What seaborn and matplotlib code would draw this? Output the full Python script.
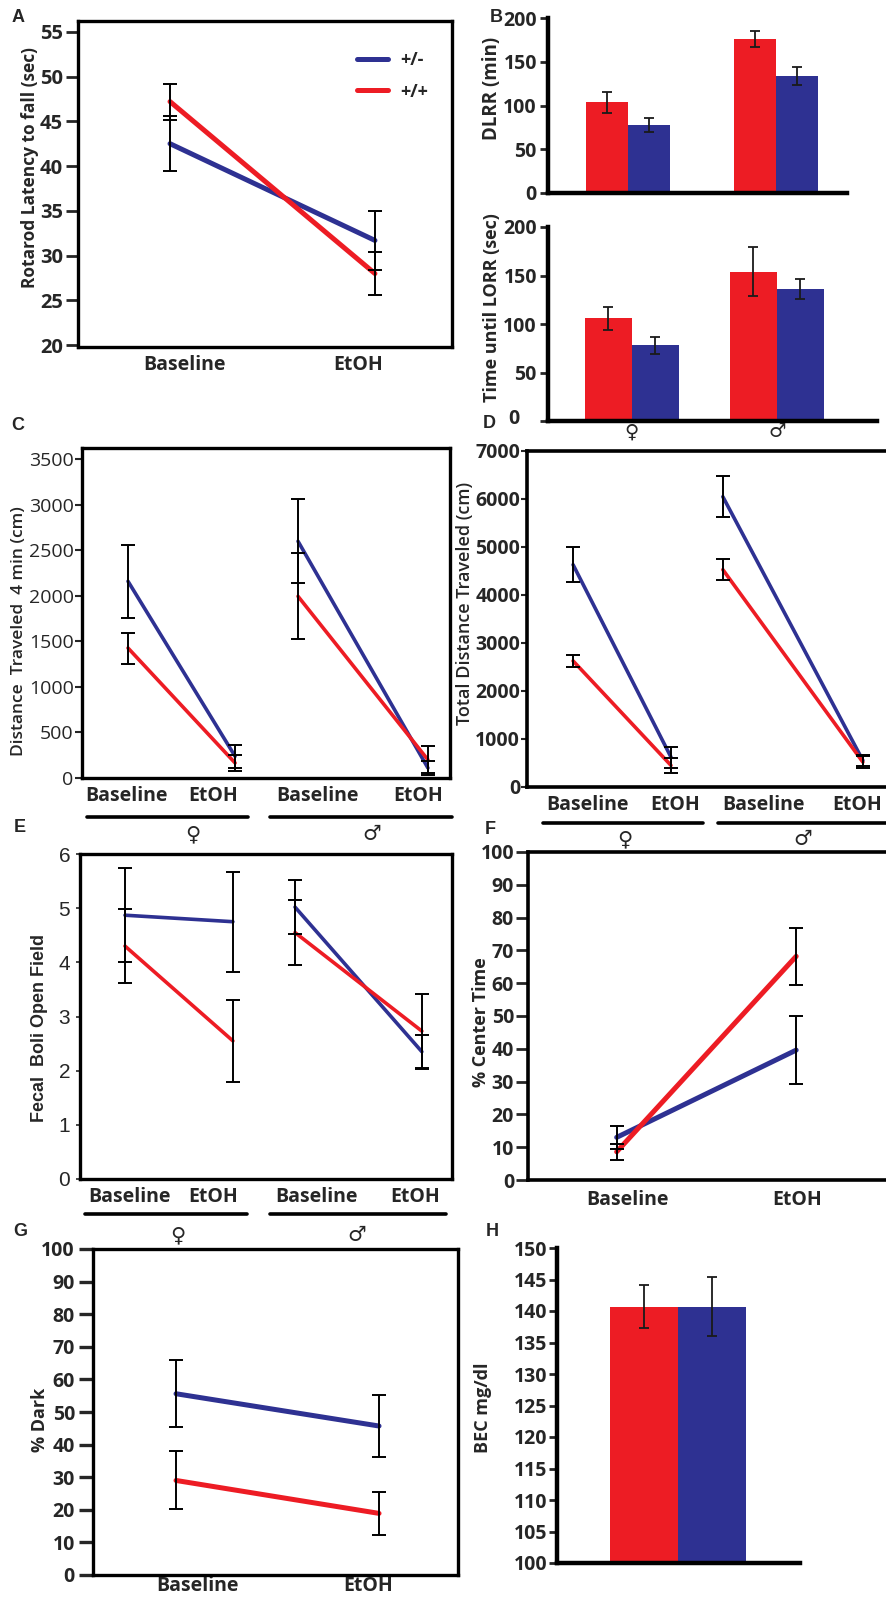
import numpy as np
import pandas as pd
import matplotlib
matplotlib.use("Agg")
import matplotlib.pyplot as plt
from matplotlib.lines import Line2D
import seaborn as sns

# ---------------- data ----------------
genotypes = ["+/-", "+/+"]
conds = ["Baseline", "EtOH"]
sex_conds = ["Baseline", "EtOH", "Baseline", "EtOH"]
sex_of_point = ["F", "F", "M", "M"]
sexes = ["\u2640", "\u2642"]

# A rotarod
a_het = [42.5, 31.7]
a_het_err = [3.1, 3.3]
a_wt = [47.2, 28.0]
a_wt_err = [2.0, 2.4]

# B DLRR / LORR (female, male)
dlrr_wt = [104, 176]
dlrr_wt_err = [12, 9]
dlrr_het = [78, 134]
dlrr_het_err = [8, 10]
lorr_wt = [106, 154]
lorr_wt_err = [12, 25]
lorr_het = [78, 136]
lorr_het_err = [8.5, 10]

# C distance 4 min (F base, F EtOH, M base, M EtOH)
c_het = [2158, 238, 2597, 110]
c_het_err = [400, 125, 460, 80]
c_wt = [1426, 165, 1993, 200]
c_wt_err = [170, 90, 470, 150]

# D total distance
d_het = [4631, 622, 6048, 553]
d_het_err = [360, 220, 430, 120]
d_wt = [2627, 450, 4528, 518]
d_wt_err = [120, 150, 220, 120]

# E fecal boli
e_het = [4.87, 4.75, 5.02, 2.35]
e_het_err = [0.87, 0.92, 0.50, 0.30]
e_wt = [4.30, 2.55, 4.55, 2.73]
e_wt_err = [0.68, 0.76, 0.60, 0.69]

# F % center time
f_het = [13.0, 39.6]
f_het_err = [3.4, 10.4]
f_wt = [8.6, 68.2]
f_wt_err = [2.5, 8.6]

# G % dark
g_het = [55.6, 45.7]
g_het_err = [10.3, 9.6]
g_wt = [29.0, 18.9]
g_wt_err = [8.9, 6.6]

# H BEC
h_cat = ["BEC"]
h_wt = [140.7]
h_wt_err = [3.4]
h_het = [140.7]
h_het_err = [4.7]

# ---------------- style ----------------
sns.set_theme(style="white")
plt.rcParams["font.family"] = ["Open Sans", "DejaVu Sans"]
plt.rcParams["axes.edgecolor"] = "black"

RED = "#ED1C24"
BLUE = "#2E3192"
pal = {"+/-": BLUE, "+/+": RED}

W, H = 887, 1597
fig = plt.figure(figsize=(W / 100, H / 100), dpi=100)


def add_ax(l, t, r, b):
    return fig.add_axes([l / W, 1 - b / H, (r - l) / W, (b - t) / H])


def ftext(x, y, s, **kw):
    kw.setdefault("ha", "center")
    kw.setdefault("va", "center")
    fig.text(x / W, 1 - y / H, s, **kw)


def fline(x0, x1, y, lw=2.6):
    fig.add_artist(Line2D([x0 / W, x1 / W], [1 - y / H, 1 - y / H],
                          color="black", lw=lw, transform=fig.transFigure))


def line_panel(ax, pos, het, het_err, wt, wt_err, sex=None, lw=3.0):
    n = len(pos)
    sexcol = sex if sex is not None else ["all"] * n
    df = pd.DataFrame({
        "pos": list(pos) * 2,
        "val": list(het) + list(wt),
        "err": list(het_err) + list(wt_err),
        "geno": ["+/-"] * n + ["+/+"] * n,
        "sex": list(sexcol) * 2,
    })
    sns.lineplot(data=df, x="pos", y="val", hue="geno", hue_order=genotypes,
                 units="sex", estimator=None, palette=pal, linewidth=lw,
                 ax=ax, legend=False, sort=False)
    ax.errorbar(df["pos"], df["val"], yerr=df["err"], fmt="none",
                ecolor="black", elinewidth=1.4, capsize=5, capthick=1.4,
                zorder=5)
    ax.set_xlabel("")
    ax.set_ylabel("")


def bar_panel(ax, cats, wt, wt_err, het, het_err, width):
    n = len(cats)
    df = pd.DataFrame({
        "cat": list(cats) * 2,
        "val": list(wt) + list(het),
        "err": list(wt_err) + list(het_err),
        "geno": ["+/+"] * n + ["+/-"] * n,
    })
    sns.barplot(data=df, x="cat", y="val", hue="geno", hue_order=["+/+", "+/-"],
                palette=pal, width=width, ax=ax, legend=False, errorbar=None,
                saturation=1, linewidth=0)
    conts = list(ax.containers[:2])
    for cont, g in zip(conts, ["+/+", "+/-"]):
        sub = df[df.geno == g]
        for bar, v, e in zip(cont, sub.val, sub.err):
            ax.errorbar(bar.get_x() + bar.get_width() / 2, v, yerr=e, fmt="none",
                        ecolor="#1a1a1a", elinewidth=1.3, capsize=3.5,
                        capthick=1.3, zorder=5)
    ax.set_xlabel("")
    ax.set_ylabel("")


def box(ax, lw=2.4, sides=("left", "right", "top", "bottom")):
    for s in ["left", "right", "top", "bottom"]:
        ax.spines[s].set_visible(s in sides)
        ax.spines[s].set_linewidth(lw)
        ax.spines[s].set_color("black")


def bold_ticks(ax):
    for t in ax.get_yticklabels():
        t.set_fontweight("bold")


TICKFS = 14
BOLD = "bold"

# ---------------- Panel A ----------------
axA = add_ax(78, 21, 452, 347)
line_panel(axA, [0, 1], a_het, a_het_err, a_wt, a_wt_err, lw=3.6)
axA.set_xlim(-0.449, 1.376)
axA.set_ylim(19.8, 56.2)
axA.set_yticks([20, 25, 30, 35, 40, 45, 50, 55])
axA.set_xticks([0.073, 0.917])
axA.set_xticklabels(conds, fontsize=14, fontweight=BOLD)
axA.tick_params(axis="y", direction="out", length=9, width=2, labelsize=14.5, pad=2, left=True)
axA.tick_params(axis="x", length=0, pad=6)
bold_ticks(axA)
box(axA)
axA.legend(handles=[Line2D([], [], color=BLUE, lw=3.6, label="+/-"),
                    Line2D([], [], color=RED, lw=3.6, label="+/+")],
           loc="upper left", bbox_to_anchor=((348 - 78) / 374, 1 - (42 - 21) / 326),
           frameon=False, handlelength=1.7, handletextpad=0.7, labelspacing=0.75,
           borderpad=0, prop={"size": 13, "weight": "bold"})
ftext(30, 168, "Rotarod Latency to fall (sec)", rotation=90, fontsize=12.5, fontweight="bold")
ftext(18, 17, "A", fontsize=13, fontweight=BOLD, family="Liberation Sans")

# ---------------- Panel B (top) ----------------
axB1 = add_ax(548, 18, 847, 193)
bar_panel(axB1, sexes, dlrr_wt, dlrr_wt_err, dlrr_het, dlrr_het_err, width=0.564)
axB1.set_xlim(-0.537, 1.477)
axB1.set_ylim(0, 200)
axB1.set_yticks([0, 50, 100, 150, 200])
axB1.set_xticks([])
axB1.tick_params(axis="y", direction="out", length=6, width=2, labelsize=TICKFS, pad=2, left=True)
bold_ticks(axB1)
box(axB1, lw=3.2, sides=("left", "bottom"))
ftext(492, 88, "DLRR (min)", rotation=90, fontsize=13.5, fontweight="bold")
ftext(496, 17, "B", fontsize=13, fontweight=BOLD, family="Liberation Sans")

# ---------------- Panel B (bottom) ----------------
axB2 = add_ax(548, 227, 877, 421)
bar_panel(axB2, sexes, lorr_wt, lorr_wt_err, lorr_het, lorr_het_err, width=0.648)
axB2.set_xlim(-0.579, 1.69)
axB2.set_ylim(0, 200)
axB2.set_yticks([0, 50, 100, 150, 200])
axB2.set_yticklabels(["", "50", "100", "150", "200"])
axB2.tick_params(axis="y", direction="out", length=6, width=2, labelsize=TICKFS, pad=2, left=True)
bold_ticks(axB2)
axB2.tick_params(axis="x", length=0, pad=1)
axB2.set_xticks([0, 1])
axB2.set_xticklabels(sexes, fontsize=14, family="DejaVu Sans")
box(axB2, lw=3.2, sides=("left", "bottom"))
ftext(492, 308, "Time until LORR (sec)", rotation=90, fontsize=13, fontweight="bold")
ftext(514, 419, "0", fontsize=TICKFS, fontweight=BOLD)
ftext(489, 424, "D", fontsize=13, fontweight=BOLD, family="Liberation Sans")

# ---------------- Panel C ----------------
axC = add_ax(82, 448, 450, 778)
posC = [1.25, 4.16, 5.87, 9.40]
line_panel(axC, posC, c_het, c_het_err, c_wt, c_wt_err, sex=sex_of_point, lw=2.6)
axC.set_xlim(0, 10)
axC.set_ylim(0, 3620)
axC.set_yticks(np.arange(0, 3501, 500))
axC.tick_params(axis="y", direction="out", length=5, width=1.5, labelsize=14, pad=1, left=True)
axC.set_xticks([1.22, 3.56, 6.39, 9.13])
axC.set_xticklabels(sex_conds, fontsize=14, fontweight=BOLD)
axC.tick_params(axis="x", length=0, pad=6)
box(axC, lw=2.4)
fline(87, 248, 817)
fline(270, 452, 817)
ftext(193, 834, sexes[0], fontsize=15, family="DejaVu Sans")
ftext(372, 834, sexes[1], fontsize=15, family="DejaVu Sans")
ftext(19, 631, "Distance  Traveled  4 min (cm)", rotation=90, fontsize=12.5, fontweight="semibold")
ftext(18, 425, "C", fontsize=13, fontweight=BOLD, family="Liberation Sans")

# ---------------- Panel D ----------------
axD = add_ax(527, 451, 887, 787)
posD = [1.28, 4.0, 5.44, 9.33]
line_panel(axD, posD, d_het, d_het_err, d_wt, d_wt_err, sex=sex_of_point, lw=2.6)
axD.set_xlim(0, 10)
axD.set_ylim(0, 7000)
axD.set_yticks(np.arange(0, 7001, 1000))
axD.tick_params(axis="y", direction="out", length=4, width=1.5, labelsize=TICKFS, pad=1, left=True)
bold_ticks(axD)
axD.set_xticks([1.67, 4.11, 6.56, 9.17])
axD.set_xticklabels(sex_conds, fontsize=14, fontweight=BOLD)
axD.tick_params(axis="x", length=0, pad=6)
box(axD, lw=2.6, sides=("left", "top", "bottom"))
fline(543, 703, 823)
fline(718, 887, 823)
ftext(625, 839, sexes[0], fontsize=15, family="DejaVu Sans")
ftext(803, 839, sexes[1], fontsize=15, family="DejaVu Sans")
ftext(465, 603, "Total Distance Traveled (cm)", rotation=90, fontsize=13, fontweight="semibold")

# ---------------- Panel E ----------------
axE = add_ax(80, 854, 452, 1179)
posE = [1.21, 4.11, 5.78, 9.19]
line_panel(axE, posE, e_het, e_het_err, e_wt, e_wt_err, sex=sex_of_point, lw=2.6)
axE.set_xlim(0, 10)
axE.set_ylim(0, 6)
axE.set_yticks(range(0, 7))
axE.tick_params(axis="y", direction="out", length=3, width=1.2, labelsize=15, pad=4, left=True)
for t in axE.get_yticklabels():
    t.set_family("Liberation Sans")
axE.set_xticks([1.34, 3.58, 6.37, 9.0])
axE.set_xticklabels(sex_conds, fontsize=14, fontweight=BOLD)
axE.tick_params(axis="x", length=0, pad=6)
box(axE, lw=2.4)
fline(85, 247, 1214)
fline(270, 446, 1214)
ftext(178, 1235, sexes[0], fontsize=15, family="DejaVu Sans")
ftext(357, 1235, sexes[1], fontsize=15, family="DejaVu Sans")
ftext(40, 1028, "Fecal  Boli Open Field", rotation=90, fontsize=13, fontweight=BOLD, family="Liberation Sans")
ftext(20, 828, "E", fontsize=13, fontweight=BOLD, family="Liberation Sans")

# ---------------- Panel F ----------------
axF = add_ax(528, 852, 887, 1180)
line_panel(axF, [0, 1], f_het, f_het_err, f_wt, f_wt_err, lw=3.6)
axF.set_xlim(-0.494, 1.506)
axF.set_ylim(0, 100)
axF.set_yticks(range(0, 101, 10))
axF.tick_params(axis="y", direction="out", length=9, width=2, labelsize=TICKFS, pad=1, left=True)
bold_ticks(axF)
axF.set_xticks([0.06, 1.005])
axF.set_xticklabels(conds, fontsize=14, fontweight=BOLD)
axF.tick_params(axis="x", length=0, pad=7)
box(axF, lw=2.6, sides=("left", "top", "bottom"))
ftext(481, 1022, "% Center Time", rotation=90, fontsize=13, fontweight=BOLD)
ftext(490, 829, "F", fontsize=13, fontweight=BOLD, family="Liberation Sans")

# ---------------- Panel G ----------------
axG = add_ax(93, 1249, 458, 1575)
line_panel(axG, [0, 1], g_het, g_het_err, g_wt, g_wt_err, lw=3.6)
axG.set_xlim(-0.409, 1.389)
axG.set_ylim(0, 100)
axG.set_yticks(range(0, 101, 10))
axG.tick_params(axis="y", direction="out", length=10, width=2.4, labelsize=TICKFS, pad=3, left=True)
bold_ticks(axG)
axG.set_xticks([0.108, 0.946])
axG.set_xticklabels(conds, fontsize=14, fontweight=BOLD)
axG.tick_params(axis="x", length=0, pad=1)
box(axG, lw=2.4)
ftext(40, 1420, "% Dark", rotation=90, fontsize=13, fontweight=BOLD)
ftext(20, 1232, "G", fontsize=13, fontweight=BOLD, family="Liberation Sans")

# ---------------- Panel H ----------------
axH = add_ax(557, 1248, 800, 1563)
bar_panel(axH, h_cat, h_wt, h_wt_err, h_het, h_het_err, width=0.8)
axH.set_xlim(-0.71, 0.72)
axH.set_ylim(100, 150)
axH.set_yticks(range(100, 151, 5))
axH.set_xticks([])
axH.tick_params(axis="y", direction="out", length=6, width=2, labelsize=TICKFS, pad=1, left=True)
bold_ticks(axH)
box(axH, lw=3.2, sides=("left", "bottom"))
ftext(483, 1408, "BEC mg/dl", rotation=90, fontsize=13, fontweight=BOLD)
ftext(492, 1232, "H", fontsize=13, fontweight=BOLD, family="Liberation Sans")

fig.savefig("out.png", dpi=100)
